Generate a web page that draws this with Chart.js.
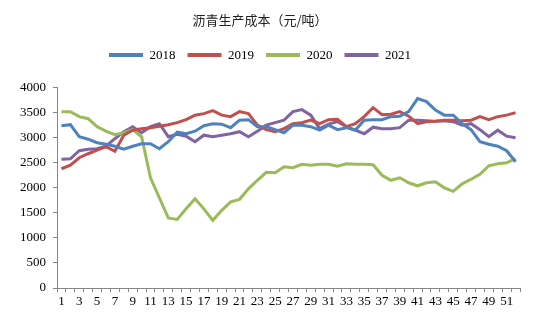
<!DOCTYPE html>
<html><head><meta charset="utf-8">
<script src="https://cdn.jsdelivr.net/npm/chart.js@4.4.0/dist/chart.umd.min.js"></script>
<style>html,body{margin:0;padding:0;background:#fff}#wrap{width:550px;height:321px}</style>
</head><body><div id="wrap"><canvas id="c" width="550" height="321"></canvas></div>
<script>
const weeks = Array.from({length:52},(_,i)=>String(i+1));
const seriesNames = ['2018','2019','2020','2021'];
const d2018 = [3240,3260,3020,2970,2900,2870,2830,2770,2830,2880,2880,2780,2920,3110,3080,3130,3240,3280,3270,3200,3350,3360,3220,3220,3160,3100,3250,3250,3220,3150,3250,3160,3200,3150,3350,3360,3360,3420,3430,3520,3780,3720,3550,3450,3450,3280,3160,2920,2870,2830,2740,2520];
const d2019 = [2380,2450,2600,2680,2750,2820,2730,3050,3150,3180,3200,3230,3260,3300,3360,3450,3480,3540,3450,3420,3520,3480,3250,3160,3120,3180,3280,3300,3350,3280,3360,3370,3220,3280,3420,3600,3460,3470,3520,3430,3280,3320,3330,3350,3350,3340,3350,3420,3360,3420,3450,3500];
const d2020 = [3520,3520,3420,3380,3220,3130,3060,3100,3160,3020,2200,1800,1400,1370,1580,1780,1580,1350,1550,1720,1770,1980,2150,2310,2300,2420,2400,2470,2450,2470,2470,2430,2480,2470,2470,2460,2250,2150,2200,2100,2040,2100,2120,2000,1930,2080,2170,2270,2440,2480,2500,2580];
const d2021 = [2570,2580,2740,2770,2780,2830,2980,3120,3220,3100,3220,3280,3020,3070,3030,2920,3050,3020,3050,3080,3120,3020,3130,3250,3300,3350,3520,3560,3450,3180,3270,3320,3220,3150,3080,3210,3180,3180,3200,3350,3350,3340,3330,3340,3320,3250,3280,3160,3020,3150,3030,3000];
const colors = ['#4F81BD','#C0504D','#9BBB59','#8064A2'];
const allData = [d2018,d2019,d2020,d2021];

const axisColor = '#868686';
const serif = "'Liberation Serif', 'DejaVu Serif', serif";

const legendSpace = {
  id: 'legendSpace',
  afterInit(chart){
    const lg = chart.legend;
    if (!lg) return;
    const orig = lg.fit;
    lg.fit = function(){ orig.call(this); this.height += 16; };
  }
};

new Chart(document.getElementById('c'), {
  type: 'line',
  data: {
    labels: weeks,
    datasets: seriesNames.map((n,i)=>({
      label: n, data: allData[i], borderColor: colors[i], backgroundColor: colors[i],
      borderWidth: 3, pointRadius: 0, tension: 0, fill: false
    }))
  },
  plugins: [legendSpace],
  options: {
    responsive: false, animation: false,
    layout: { padding: { left: 0, right: 30, top: 0, bottom: 6 } },
    plugins: {
      title: { display: true, text: '沥青生产成本（元/吨）', color: '#222',
        font: { family: "'Noto Sans CJK SC', sans-serif", size: 13, weight: 'normal' },
        padding: { top: 12, bottom: 9 } },
      legend: { display: true, position: 'top',
        labels: { boxWidth: 34, boxHeight: 4, padding: 12, color: '#000',
          font: { family: serif, size: 13 },
          generateLabels(chart){
            const items = Chart.defaults.plugins.legend.labels.generateLabels(chart);
            items.forEach(it=>{ it.lineWidth = 0; it.fillStyle = it.strokeStyle; });
            return items;
          } } },
      tooltip: { enabled: false }
    },
    scales: {
      x: {
        offset: true,
        grid: { offset: true, drawOnChartArea: false, drawTicks: true, tickLength: 4, color: axisColor },
        border: { display: true, color: axisColor, width: 1 },
        ticks: { autoSkip: false, maxRotation: 0, minRotation: 0, padding: 2, color: '#000',
          font: { family: serif, size: 13 },
          callback(v, i){ return (i % 2 === 0) ? weeks[i] : ''; } },
        afterFit(s){ s.height = 27; }
      },
      y: {
        min: 0, max: 4000,
        grid: { drawOnChartArea: false, drawTicks: true, tickLength: 4, color: axisColor },
        border: { display: true, color: axisColor, width: 1 },
        ticks: { stepSize: 500, padding: 7, color: '#000', font: { family: serif, size: 13 },
          callback(v){ return String(v); } },
        afterFit(s){ s.width = 57; }
      }
    }
  }
});
</script></body></html>
